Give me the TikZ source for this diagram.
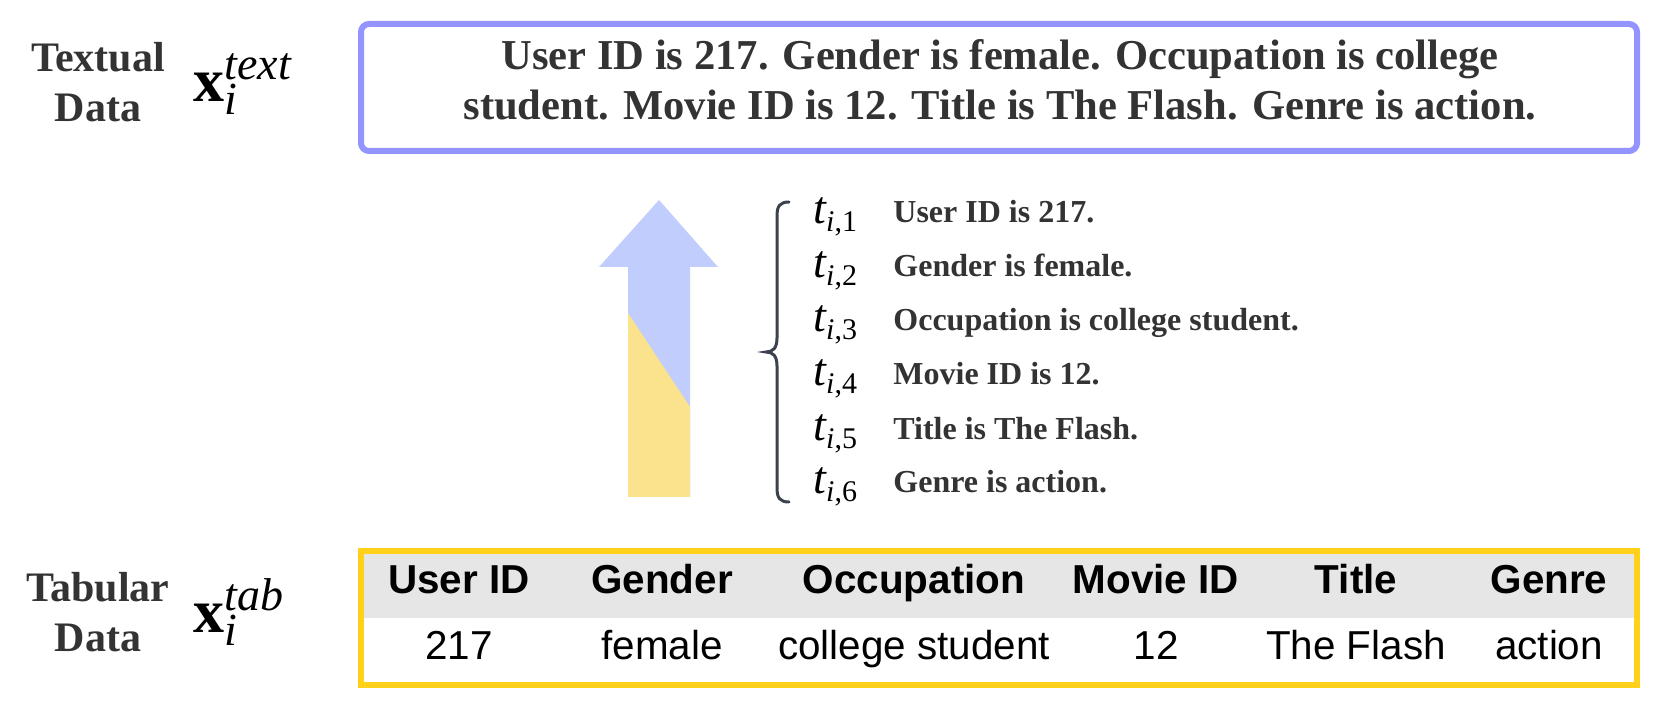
\documentclass[tikz,border=0pt]{standalone}
\usepackage{fontspec}
\setmainfont{Liberation Serif}
\newfontfamily\arialf{Liberation Sans}
\definecolor{boxblue}{HTML}{9494FF}
\definecolor{boxyellow}{HTML}{FFD11A}
\definecolor{arrowblue}{HTML}{C1CDFD}
\definecolor{arrowyellow}{HTML}{FBE28C}
\definecolor{txtgray}{HTML}{333333}
\definecolor{bracegray}{HTML}{3C4250}
\definecolor{headgray}{HTML}{E6E6E6}
\newcommand\vecx[1]{{\fontsize{31}{31}\selectfont\bfseries x}{\fontsize{23}{23}\selectfont\itshape\rlap{\raisebox{-6.5pt}{i}}\raisebox{11pt}{#1}}}
\newcommand\tik[1]{{\fontsize{23}{23}\selectfont\itshape t}\raisebox{-4pt}{\fontsize{15}{15}\selectfont\itshape i\upshape,#1}}
\begin{document}
\begin{tikzpicture}[x=0.5pt,y=-0.5pt,
  lbl/.style={font=\fontsize{21}{25}\selectfont\bfseries, text=txtgray, align=center, anchor=base, inner sep=0pt},
  sent/.style={font=\fontsize{21.3}{25}\selectfont\bfseries, text=txtgray, align=center, anchor=base, inner sep=0pt},
  item/.style={font=\fontsize{16}{16}\selectfont\bfseries, text=txtgray, anchor=base west, inner sep=0pt},
  tsym/.style={anchor=base west, inner sep=0pt},
  hcell/.style={font=\arialf\fontsize{20.2}{20}\selectfont\bfseries, anchor=base, inner sep=0pt},
  dcell/.style={font=\arialf\fontsize{20.2}{20}\selectfont, anchor=base, inner sep=0pt},
  framebox/.style={line width=3pt},
]
\useasboundingbox (0,0) rectangle (1661,710);

% left labels (anchor base = baseline of last line)
\node[lbl] (textlbl) at (98,122) {Textual\\Data};
\node[tsym] (xtext) at (193,102) {\vecx{text}};
\node[lbl] (tablbl) at (98,652) {Tabular\\Data};
\node[tsym] (xtab) at (193,633) {\vecx{tab}};

% textual box
\draw[framebox, boxblue, rounded corners=4pt] (361,24) rectangle (1637,151);
\node[sent] (sentence) at (1000,120) {User ID is 217. Gender is female. Occupation is college\\student. Movie ID is 12. Title is The Flash. Genre is action.};

% arrow
\fill[arrowblue] (659,200) -- (718,267) -- (690,267) -- (690,497) -- (628,497) -- (628,267) -- (599,267) -- cycle;
\fill[arrowyellow] (628,313) -- (690,407) -- (690,497) -- (628,497) -- cycle;

% brace
\draw[bracegray, line width=1.5pt, line cap=round] (789,202) .. controls (780,202) and (777,206) .. (777,216) -- (777,338) .. controls (777,348) and (773,352) .. (766,352) .. controls (773,352) and (777,356) .. (777,366) -- (777,488) .. controls (777,498) and (780,502) .. (789,502);

% items
\node[tsym] (t1) at (813,224) {\tik{1}};
\node[tsym] (t2) at (813,278) {\tik{2}};
\node[tsym] (t3) at (813,332) {\tik{3}};
\node[tsym] (t4) at (813,386) {\tik{4}};
\node[tsym] (t5) at (813,441) {\tik{5}};
\node[tsym] (t6) at (813,494) {\tik{6}};
\node[item] (s1) at (893,223) {User ID is 217.};
\node[item] (s2) at (893,277) {Gender is female.};
\node[item] (s3) at (893,331) {Occupation is college student.};
\node[item] (s4) at (893,385) {Movie ID is 12.};
\node[item] (s5) at (893,440) {Title is The Flash.};
\node[item] (s6) at (893,493) {Genre is action.};

% table
\fill[headgray] (364,554) rectangle (1634,618);
\draw[framebox, boxyellow] (361,551) rectangle (1637,685);
\node[hcell] (h1) at (459,594) {User ID};
\node[hcell] (h2) at (662,594) {Gender};
\node[hcell] (h3) at (914,594) {Occupation};
\node[hcell] (h4) at (1156,594) {Movie ID};
\node[hcell] (h5) at (1356,594) {Title};
\node[hcell] (h6) at (1549,594) {Genre};
\node[dcell] (d1) at (459,660) {217};
\node[dcell] (d2) at (662,660) {female};
\node[dcell] (d3) at (914,660) {college student};
\node[dcell] (d4) at (1156,660) {12};
\node[dcell] (d5) at (1356,660) {The Flash};
\node[dcell] (d6) at (1549,660) {action};
\end{tikzpicture}
\end{document}
